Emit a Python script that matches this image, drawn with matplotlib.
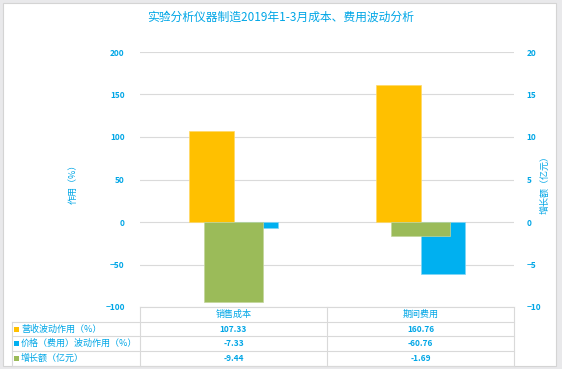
import matplotlib
matplotlib.use('Agg')
import matplotlib.pyplot as plt
from matplotlib.patches import Rectangle
import numpy as np

plt.rcParams['font.family'] = ['Noto Sans CJK SC', 'DejaVu Sans']

# Data
categories = ['销售成本', '期间费用']
revenue_effect = [107.33, 160.76]      # 营收波动作用（%）, primary axis
price_effect = [-7.33, -60.76]         # 价格（费用）波动作用（%）, primary axis
growth_amount = [-9.44, -1.69]         # 增长额（亿元）, secondary axis
series_names = ['营收波动作用（%）', '价格（费用）波动作用（%）', '增长额（亿元）']
left_ticks = [-100, -50, 0, 50, 100, 150, 200]
right_ticks = [-10, -5, 0, 5, 10, 15, 20]

orange = '#FFC000'
blue = '#00B0F0'
green = '#9BBB59'
txt = '#00A6E6'
grid = '#DADADA'

W, H = 562, 369
fig = plt.figure(figsize=(W / 100, H / 100), dpi=100)
fig.patch.set_facecolor('#E9E9EB')

# background / overlay axes in pixel coordinates
bg = fig.add_axes([0, 0, 1, 1])
bg.set_xlim(0, W)
bg.set_ylim(H, 0)
bg.axis('off')
bg.add_patch(Rectangle((3, 3), 553, 363, facecolor='white', edgecolor='#D4D4D4', lw=0.8))

# plot area
px0, px1, py0, py1 = 140, 514, 52, 307
ax = fig.add_axes([px0 / W, (H - py1) / H, (px1 - px0) / W, (py1 - py0) / H])
ax.set_facecolor('none')
x = np.arange(len(categories))
bw = 0.24
ax.bar(x - bw / 2, revenue_effect, bw, color=orange, edgecolor='#FFD966', lw=0.5, zorder=3)
ax.bar(x + bw / 2, price_effect, bw, color=blue, edgecolor='#7FD5F5', lw=0.5, zorder=3)
ax.set_xlim(-0.5, 1.5)
ax.set_ylim(-100, 200)
ax.set_yticks(left_ticks)
ax.set_xticks([])
ax.grid(axis='y', color=grid, lw=0.8, zorder=0)
ax.tick_params(axis='y', length=0, pad=11, labelsize=6, labelcolor=txt)
for lbl in ax.get_yticklabels():
    lbl.set_fontweight('bold')
for s in ax.spines.values():
    s.set_visible(False)

ax2 = ax.twinx()
ax2.bar(x, growth_amount, 0.315, color=green, edgecolor='#C3D69B', lw=0.5, zorder=3)
ax2.set_ylim(-10, 20)
ax2.set_yticks(right_ticks)
ax2.tick_params(axis='y', length=0, pad=9, labelsize=6, labelcolor=txt)
for lbl in ax2.get_yticklabels():
    lbl.set_fontweight('bold')
for s in ax2.spines.values():
    s.set_visible(False)

# title and axis titles
bg.text(281, 17, '实验分析仪器制造2019年1-3月成本、费用波动分析', ha='center', va='center',
        fontsize=8.5, color=txt)
bg.text(73, 182, '作用（%）', rotation=90, ha='center', va='center', fontsize=6.5, color=txt)
bg.text(545, 182, '增长额（亿元）', rotation=90, ha='center', va='center', fontsize=6.5, color=txt)

# data table under the chart
lc = '#D9D9D9'
row_y = [307, 322, 336, 351, 366]
col_x = [140, 327, 514]
bg.plot([140, 514], [307, 307], color=lc, lw=0.8)
for yy in row_y[1:]:
    bg.plot([12, 514], [yy, yy], color=lc, lw=0.8)
for xx in col_x:
    bg.plot([xx, xx], [307, 366], color=lc, lw=0.8)
bg.plot([12, 12], [322, 366], color=lc, lw=0.8)

centers = [(col_x[i] + col_x[i + 1]) / 2 for i in range(len(categories))]
for cx, c in zip(centers, categories):
    bg.text(cx, 314.5, c, ha='center', va='center', fontsize=6.5, color=txt)

colors = [orange, blue, green]
values = [revenue_effect, price_effect, growth_amount]
for i, (name, col, vals) in enumerate(zip(series_names, colors, values)):
    yc = (row_y[i + 1] + row_y[i + 2]) / 2
    bg.add_patch(Rectangle((13.5, yc - 2.5), 5, 5, facecolor=col, edgecolor='none'))
    bg.text(21, yc, name, ha='left', va='center', fontsize=6.5, color=txt)
    for cx, v in zip(centers, vals):
        bg.text(cx, yc, f'{v:.2f}', ha='center', va='center', fontsize=6,
                color=txt, fontweight='bold')

fig.savefig('out.png', dpi=100, facecolor=fig.get_facecolor())
